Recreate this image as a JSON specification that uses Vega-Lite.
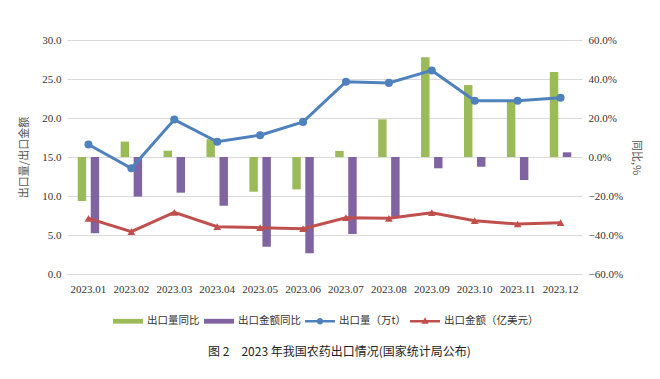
{
  "$schema": "https://vega.github.io/schema/vega-lite/v6.json",
  "autosize": "none",
  "width": 515,
  "height": 234,
  "padding": {"left": 67, "top": 40, "right": 78, "bottom": 105},
  "background": "white",
  "title": {
    "text": "图 2　2023 年我国农药出口情况(国家统计局公布)",
    "orient": "bottom",
    "anchor": "middle",
    "offset": 20,
    "dx": 15,
    "font": "Noto Sans CJK SC",
    "fontSize": 12,
    "fontWeight": "normal",
    "color": "#222222"
  },
  "config": {
    "view": {"stroke": null},
    "axis": {
      "labelFont": "Liberation Serif, Times New Roman, serif",
      "labelFontSize": 11,
      "labelColor": "#333333",
      "titleFont": "Noto Sans CJK SC",
      "titleFontSize": 11,
      "titleFontWeight": "normal",
      "titleColor": "#555555",
      "ticks": false,
      "labelOverlap": false
    }
  },
  "data": {
    "values": [
      {"month": "2023.01", "出口量": 16.6, "出口金额": 7.14, "出口量同比": -0.226, "出口金额同比": -0.391},
      {"month": "2023.02", "出口量": 13.55, "出口金额": 5.43, "出口量同比": 0.079, "出口金额同比": -0.203},
      {"month": "2023.03", "出口量": 19.8, "出口金额": 7.9, "出口量同比": 0.032, "出口金额同比": -0.183},
      {"month": "2023.04", "出口量": 16.95, "出口金额": 6.07, "出口量同比": 0.091, "出口金额同比": -0.25},
      {"month": "2023.05", "出口量": 17.8, "出口金额": 5.94, "出口量同比": -0.178, "出口金额同比": -0.46},
      {"month": "2023.06", "出口量": 19.5, "出口金额": 5.81, "出口量同比": -0.166, "出口金额同比": -0.494},
      {"month": "2023.07", "出口量": 24.65, "出口金额": 7.22, "出口量同比": 0.031, "出口金额同比": -0.395},
      {"month": "2023.08", "出口量": 24.5, "出口金额": 7.14, "出口量同比": 0.193, "出口金额同比": -0.306},
      {"month": "2023.09", "出口量": 26.1, "出口金额": 7.86, "出口量同比": 0.511, "出口金额同比": -0.058},
      {"month": "2023.10", "出口量": 22.2, "出口金额": 6.83, "出口量同比": 0.369, "出口金额同比": -0.05},
      {"month": "2023.11", "出口量": 22.2, "出口金额": 6.41, "出口量同比": 0.284, "出口金额同比": -0.118},
      {"month": "2023.12", "出口量": 22.6, "出口金额": 6.58, "出口量同比": 0.436, "出口金额同比": 0.024}
    ]
  },
  "encoding": {
    "x": {
      "field": "month",
      "type": "nominal",
      "sort": null,
      "scale": {"paddingInner": 0.5, "paddingOuter": 0.25},
      "axis": {
        "title": null,
        "labelAngle": 0,
        "labelPadding": 9,
        "domain": true,
        "domainColor": "#D9D9D9",
        "grid": false
      }
    }
  },
  "layer": [
    {
      "transform": [{"fold": ["出口量同比", "出口金额同比"], "as": ["series", "yoy"]}],
      "mark": {"type": "bar"},
      "encoding": {
        "xOffset": {
          "field": "series",
          "type": "nominal",
          "sort": ["出口量同比", "出口金额同比"],
          "scale": {"paddingInner": 0.35, "paddingOuter": 0}
        },
        "y": {
          "field": "yoy",
          "type": "quantitative",
          "stack": null,
          "scale": {"domain": [-0.6, 0.6], "nice": false, "zero": true},
          "axis": {
            "orient": "right",
            "title": "同比,%",
            "format": ".1%",
            "values": [-0.6, -0.4, -0.2, 0, 0.2, 0.4, 0.6],
            "grid": false,
            "domain": false,
            "labelPadding": 6,
            "titlePadding": 8
          }
        },
        "color": {
          "field": "series",
          "type": "nominal",
          "scale": {
            "domain": ["出口量同比", "出口金额同比", "出口量（万t）", "出口金额（亿美元）"],
            "range": ["#9BBB59", "#8064A2", "#4F81BD", "#C0504D"]
          },
          "legend": {
            "title": null,
            "orient": "none",
            "direction": "horizontal",
            "legendX": 46,
            "legendY": 266,
            "symbolSize": 900,
            "labelOffset": 4,
            "columnPadding": 4,
            "labelFont": "Noto Sans CJK SC",
            "labelFontSize": 10.5,
            "labelColor": "#333333",
            "encode": {
              "symbols": {
                "update": {
                  "shape": {"signal": "datum.value === '出口量同比' || datum.value === '出口金额同比' ? 'M-1,-0.16H1V0.16H-1Z' : datum.value === '出口量（万t）' ? 'M-1,-0.08H1V0.08H-1Z M0.22,0A0.22,0.22 0 1,1 -0.22,0A0.22,0.22 0 1,1 0.22,0Z' : 'M-1,-0.08H1V0.08H-1Z M0,-0.26L0.24,0.16L-0.24,0.16Z'"},
                  "fill": {"signal": "datum.value === '出口量同比' ? '#9BBB59' : datum.value === '出口金额同比' ? '#8064A2' : datum.value === '出口量（万t）' ? '#4F81BD' : '#C0504D'"},
                  "stroke": {"value": "transparent"},
                  "strokeWidth": {"value": 0},
                  "opacity": {"value": 1}
                }
              }
            }
          }
        }
      }
    },
    {
      "layer": [
        {
          "mark": {"type": "line", "strokeWidth": 3, "point": {"filled": true, "size": 65, "shape": "circle"}},
          "encoding": {
            "y": {
              "field": "出口量",
              "type": "quantitative",
              "scale": {"domain": [0, 30], "nice": false},
              "axis": {
                "orient": "left",
                "title": "出口量/出口金额",
                "format": ".1f",
                "values": [0, 5, 10, 15, 20, 25, 30],
                "grid": true,
                "gridColor": "#D9D9D9",
                "domain": false,
                "labelPadding": 6,
                "titlePadding": 12
              }
            },
            "color": {"datum": "出口量（万t）"}
          }
        },
        {
          "mark": {"type": "line", "strokeWidth": 3, "point": {"filled": true, "size": 60, "shape": "triangle-up"}},
          "encoding": {
            "y": {
              "field": "出口金额",
              "type": "quantitative",
              "scale": {"domain": [0, 30], "nice": false},
              "axis": {
                "orient": "left",
                "title": "出口量/出口金额",
                "format": ".1f",
                "values": [0, 5, 10, 15, 20, 25, 30],
                "grid": true,
                "gridColor": "#D9D9D9",
                "domain": false,
                "labelPadding": 6,
                "titlePadding": 12
              }
            },
            "color": {"datum": "出口金额（亿美元）"}
          }
        }
      ]
    }
  ],
  "resolve": {"scale": {"y": "independent"}}
}
